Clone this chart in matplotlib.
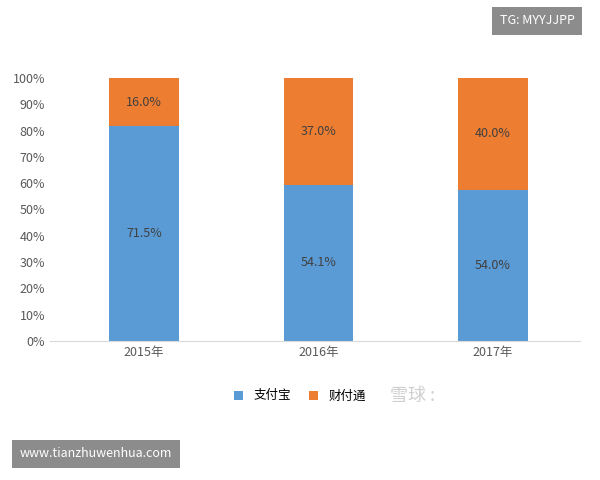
import matplotlib
matplotlib.use("Agg")
import matplotlib.pyplot as plt
import numpy as np

plt.rcParams['font.family'] = ['Noto Sans CJK SC', 'DejaVu Sans']

years = ["2015年", "2016年", "2017年"]
alipay = [71.5, 54.1, 54.0]
tenpay = [16.0, 37.0, 40.0]

blue = "#5b9bd5"
orange = "#ed7d31"

a = np.array(alipay)
t = np.array(tenpay)
tot = a + t
a_pct = a / tot * 100
t_pct = t / tot * 100

fig = plt.figure(figsize=(6, 4.8), dpi=100)
ax = fig.add_axes([0.083, 0.29, 0.884, 0.5475])
x = np.arange(len(years))
ax.bar(x, a_pct, 0.4, color=blue, label="支付宝")
ax.bar(x, t_pct, 0.4, bottom=a_pct, color=orange, label="财付通")
for i in range(len(years)):
    ax.text(x[i], a_pct[i] / 2, f"{alipay[i]:.1f}%", ha="center", va="center", fontsize=9, color="#404040")
    ax.text(x[i], a_pct[i] + t_pct[i] / 2, f"{tenpay[i]:.1f}%", ha="center", va="center", fontsize=9, color="#404040")

ax.set_xlim(-0.54, 2.5)
ax.set_ylim(0, 100)
ax.set_yticks(range(0, 101, 10))
ax.set_yticklabels([f"{v}%" for v in range(0, 101, 10)], fontsize=9, color="#595959")
ax.set_xticks(x)
ax.set_xticklabels(years, fontsize=9, color="#595959")
for s in ["top", "right", "left"]:
    ax.spines[s].set_visible(False)
ax.spines["bottom"].set_color("#d9d9d9")
ax.tick_params(length=0)

fig.legend(loc="center", bbox_to_anchor=(0.5, 0.175), ncol=2, frameon=False,
           fontsize=9, handlelength=0.7, handleheight=0.7, columnspacing=1.5)

fig.text(0.895, 0.957, "TG: MYYJJPP", ha="center", va="center", fontsize=9, color="white",
         bbox=dict(boxstyle="square,pad=0.6", fc="#8c8c8c", ec="none"))
fig.text(0.16, 0.055, "www.tianzhuwenhua.com", ha="center", va="center", fontsize=9, color="white",
         bbox=dict(boxstyle="square,pad=0.6", fc="#8c8c8c", ec="none"))
fig.text(0.65, 0.175, "雪球 :", ha="left", va="center", fontsize=13, color="#d0d0d0")

fig.savefig("out.png")
